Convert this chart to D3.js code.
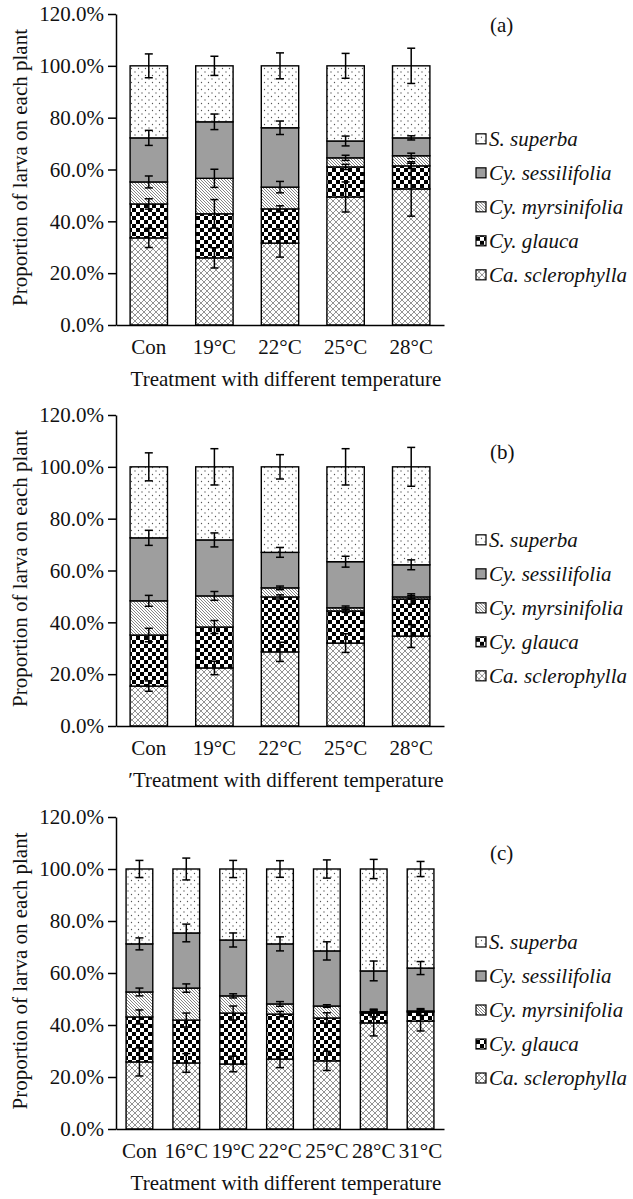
<!DOCTYPE html>
<html>
<head>
<meta charset="utf-8">
<script src="https://cdn.jsdelivr.net/npm/d3@7"></script>
<style>
body { margin: 0; background: #fff; }
text { font-family: "Liberation Serif", "Times New Roman", serif; fill: #111; }
</style>
</head>
<body>
<script>
var w = 633, h = 1199;

var species = ["Ca. sclerophylla", "Cy. glauca", "Cy. myrsinifolia", "Cy. sessilifolia", "S. superba"];
var catsAB = ["Con", "19°C", "22°C", "25°C", "28°C"];
var catsC = ["Con", "16°C", "19°C", "22°C", "25°C", "28°C", "31°C"];
var yTicks = [0, 20, 40, 60, 80, 100, 120];

// share of larvae (%) per treatment, bottom segment first
var aCa = [33.6, 25.9, 31.6, 49.4, 52.5];
var aGl = [13.1, 17.0, 13.2, 11.6, 8.9];
var aMy = [8.5, 13.7, 8.4, 3.5, 3.9];
var aSe = [17.0, 21.8, 22.9, 6.5, 6.9];
var aSu = [27.8, 21.6, 23.9, 29.0, 27.8];
var aCaErr = [3.7, 3.9, 5.4, 5.8, 10.5];
var aGlErr = [2.0, 5.5, 1.2, 1.0, 1.0];
var aMyErr = [2.3, 3.5, 2.2, 1.0, 1.0];
var aSeErr = [2.9, 3.0, 2.6, 1.9, 0.8];
var aSuErr = [4.6, 3.7, 5.0, 4.8, 6.8];

var bCa = [15.4, 22.4, 28.6, 32.0, 34.7];
var bGl = [19.7, 15.8, 21.2, 12.4, 14.3];
var bMy = [13.2, 12.0, 3.5, 1.2, 0.8];
var bSe = [24.3, 21.6, 13.7, 17.8, 12.4];
var bSu = [27.4, 28.2, 33.0, 36.6, 37.8];
var bCaErr = [2.0, 2.6, 3.7, 3.6, 4.4];
var bGlErr = [2.6, 2.5, 0.8, 0.6, 2.0];
var bMyErr = [2.1, 1.7, 0.7, 0.7, 0.5];
var bSeErr = [2.9, 2.7, 1.9, 2.1, 1.9];
var bSuErr = [5.4, 7.0, 4.7, 7.0, 7.5];

var cCa = [25.8, 25.4, 25.0, 26.9, 26.2, 40.8, 41.5];
var cGl = [17.3, 16.5, 19.6, 17.3, 16.5, 3.8, 3.5];
var cMy = [9.6, 12.3, 6.6, 3.9, 4.6, 0.5, 0.4];
var cSe = [18.5, 21.2, 21.5, 23.1, 21.2, 15.7, 16.5];
var cSu = [28.8, 24.6, 27.3, 28.8, 31.5, 39.2, 38.1];
var cCaErr = [5.4, 3.6, 3.0, 3.3, 3.7, 5.0, 3.8];
var cGlErr = [2.7, 2.7, 2.7, 1.0, 2.0, 1.5, 1.3];
var cMyErr = [1.5, 1.6, 0.8, 0.9, 0.5, 0.5, 0.5];
var cSeErr = [2.3, 3.4, 2.7, 2.7, 3.5, 3.8, 2.5];
var cSuErr = [3.3, 4.2, 3.3, 3.2, 3.5, 3.7, 2.9];

var svg = d3.select("body").append("svg")
            .attr("width", w)
            .attr("height", h);

// fill patterns
var defs = svg.append("defs");
var pCross = defs.append("pattern").attr("id", "pCross")
    .attr("patternUnits", "userSpaceOnUse").attr("width", 6).attr("height", 6);
pCross.append("rect").attr("width", 6).attr("height", 6).attr("fill", "#fff");
pCross.append("path").attr("d", "M0,0L6,6M6,0L0,6")
    .attr("stroke", "#777").attr("stroke-width", 0.8);

var pCheck = defs.append("pattern").attr("id", "pCheck")
    .attr("patternUnits", "userSpaceOnUse").attr("width", 8).attr("height", 8);
pCheck.append("rect").attr("width", 8).attr("height", 8).attr("fill", "#fff");
pCheck.append("rect").attr("x", 4).attr("y", 0).attr("width", 4).attr("height", 4).attr("fill", "#000");
pCheck.append("rect").attr("x", 0).attr("y", 4).attr("width", 4).attr("height", 4).attr("fill", "#000");

var pHatch = defs.append("pattern").attr("id", "pHatch")
    .attr("patternUnits", "userSpaceOnUse").attr("width", 3).attr("height", 3);
pHatch.append("rect").attr("width", 3).attr("height", 3).attr("fill", "#fff");
pHatch.append("path").attr("d", "M0,0L3,3M-1,2L1,4M2,-1L4,1")
    .attr("stroke", "#666").attr("stroke-width", 0.8);

var pDots = defs.append("pattern").attr("id", "pDots")
    .attr("patternUnits", "userSpaceOnUse").attr("width", 7).attr("height", 7);
pDots.append("rect").attr("width", 7).attr("height", 7).attr("fill", "#fff");
pDots.append("circle").attr("cx", 2).attr("cy", 2).attr("r", 0.65).attr("fill", "#555");
pDots.append("circle").attr("cx", 5.5).attr("cy", 5.5).attr("r", 0.65).attr("fill", "#555");

var fills = ["url(#pCross)", "url(#pCheck)", "url(#pHatch)", "#9e9e9e", "url(#pDots)"];

var panels = [
  { cats: catsAB, vals: [aCa, aGl, aMy, aSe, aSu], errs: [aCaErr, aGlErr, aMyErr, aSeErr, aSuErr],
    top: 14, bottom: 325, label: "(a)", labelY: 32, title: "Treatment with different temperature" },
  { cats: catsAB, vals: [bCa, bGl, bMy, bSe, bSu], errs: [bCaErr, bGlErr, bMyErr, bSeErr, bSuErr],
    top: 415, bottom: 726, label: "(b)", labelY: 459, title: "\u2032Treatment with different temperature" },
  { cats: catsC, vals: [cCa, cGl, cMy, cSe, cSu], errs: [cCaErr, cGlErr, cMyErr, cSeErr, cSuErr],
    top: 817, bottom: 1129, label: "(c)", labelY: 860, title: "Treatment with different temperature" }
];

var left = 116, right = 444;
var fs = 21;

panels.forEach(function(p) {
  var g = svg.append("g");
  var y = d3.scaleLinear().domain([0, 120]).range([p.bottom, p.top]);
  var x = d3.scaleBand().domain(p.cats).range([left, right])
            .paddingInner(0.43).paddingOuter(0.215);

  // stack the segments
  var rows = p.cats.map(function(c, i) {
    var o = { cat: c };
    species.forEach(function(s, k) { o[s] = p.vals[k][i]; });
    return o;
  });
  var stacked = d3.stack().keys(species)(rows);

  stacked.forEach(function(layer, k) {
    g.selectAll(".seg" + k)
     .data(layer)
     .enter()
     .append("rect")
     .attr("x", function(d) { return x(d.data.cat); })
     .attr("y", function(d) { return y(d[1]); })
     .attr("width", x.bandwidth())
     .attr("height", function(d) { return y(d[0]) - y(d[1]); })
     .attr("fill", fills[k])
     .attr("stroke", "#000")
     .attr("stroke-width", 1.4);
  });

  // error bars on top of each segment
  stacked.forEach(function(layer, k) {
    layer.forEach(function(d, i) {
      var e = p.errs[k][i];
      var cx = x(d.data.cat) + x.bandwidth() / 2;
      var y1 = y(d[1] + e), y2 = y(d[1] - e);
      var eg = g.append("g").attr("stroke", "#000").attr("stroke-width", 1.5);
      eg.append("line").attr("x1", cx).attr("x2", cx).attr("y1", y1).attr("y2", y2);
      eg.append("line").attr("x1", cx - 4).attr("x2", cx + 4).attr("y1", y1).attr("y2", y1);
      eg.append("line").attr("x1", cx - 4).attr("x2", cx + 4).attr("y1", y2).attr("y2", y2);
    });
  });

  var yAxis = g.append("g")
     .attr("transform", "translate(" + left + ",0)")
     .call(d3.axisLeft(y).tickValues(yTicks).tickSize(8).tickSizeOuter(0).tickPadding(4)
             .tickFormat(function(d) { return d.toFixed(1) + "%"; }));
  yAxis.selectAll("path, line").attr("stroke", "#000").attr("stroke-width", 1.5);
  yAxis.selectAll("text").attr("font-size", fs).attr("font-family", "Liberation Serif").attr("fill", "#111");

  var xAxis = g.append("g")
     .attr("transform", "translate(0," + p.bottom + ")")
     .call(d3.axisBottom(x).tickSize(0).tickSizeOuter(0).tickPadding(14));
  xAxis.selectAll("path").attr("stroke", "#000").attr("stroke-width", 1.5);
  xAxis.selectAll("text").attr("font-size", fs).attr("font-family", "Liberation Serif").attr("fill", "#111");

  g.append("text")
   .attr("x", 286)
   .attr("y", p.bottom + 61)
   .attr("text-anchor", "middle")
   .attr("font-size", fs)
   .text(p.title);

  g.append("text")
   .attr("transform", "translate(20," + ((p.top + p.bottom) / 2 - 2) + ") rotate(-90)")
   .attr("text-anchor", "middle")
   .attr("dominant-baseline", "central")
   .attr("font-size", fs)
   .text("Proportion of larva on each plant");

  g.append("text")
   .attr("x", 490)
   .attr("y", p.labelY)
   .attr("font-size", fs)
   .text(p.label);

  // legend, top species first
  var legTop = y(100) + 73;
  var order = [4, 3, 2, 1, 0];
  var legend = g.selectAll(".legend")
     .data(order)
     .enter()
     .append("g")
     .attr("transform", function(d, i) { return "translate(476," + (legTop + i * 34) + ")"; });
  legend.append("rect")
     .attr("x", 0).attr("y", -5)
     .attr("width", 10).attr("height", 10)
     .attr("fill", function(d) { return fills[d]; })
     .attr("stroke", "#000")
     .attr("stroke-width", 1.2);
  legend.append("text")
     .attr("x", 13)
     .attr("y", 7)
     .attr("font-size", fs)
     .attr("font-style", "italic")
     .text(function(d) { return species[d]; });
});
</script>
</body>
</html>
